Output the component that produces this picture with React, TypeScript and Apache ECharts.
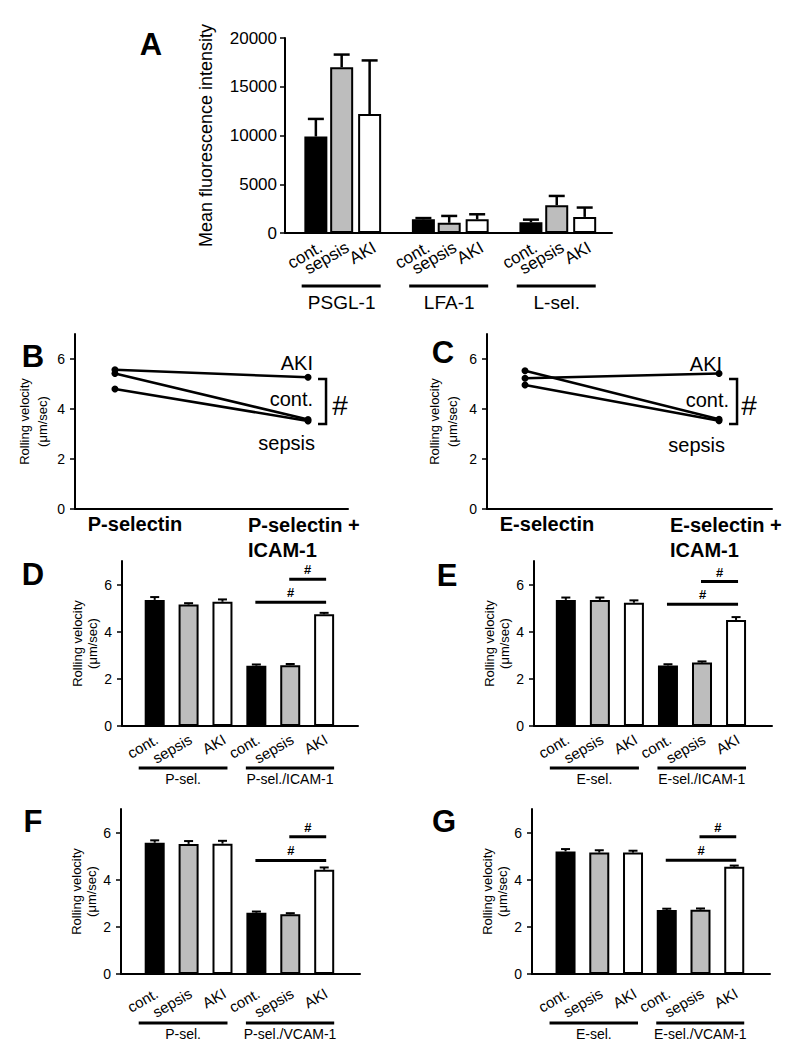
import React, { useEffect, useRef } from 'react';
import * as echarts from 'echarts';

const FONT = '"Liberation Sans", Arial, Helvetica, sans-serif';
const BLACK = '#000000';

const conditions = ['cont.', 'sepsis', 'AKI'];
const condColors = ['#000000', '#bdbdbd', '#ffffff'];

// ---- Panel A: mean fluorescence intensity ----
const aGroups = ['PSGL-1', 'LFA-1', 'L-sel.'];
const aCont = [9900, 1400, 1100];
const aSepsis = [17000, 1050, 2850];
const aAKI = [12200, 1400, 1650];
const aContErr = [1800, 130, 270];
const aSepsisErr = [1300, 700, 950];
const aAKIErr = [5500, 520, 960];

// ---- Panel B / C: rolling velocity lines ----
const bCats = ['P-selectin', 'P-selectin +\nICAM-1'];
const bCont = [5.42, 3.58];
const bSepsis = [4.8, 3.52];
const bAKI = [5.57, 5.27];
const bBracket = [5.2, 3.4];

const cCats = ['E-selectin', 'E-selectin +\nICAM-1'];
const cCont = [5.53, 3.59];
const cSepsis = [4.96, 3.53];
const cAKI = [5.23, 5.42];
const cBracket = [5.2, 3.4];

const velTicks = [0, 2, 4, 6];

// ---- Panels D-G: bar charts ----
const barCats = ['cont.', 'sepsis', 'AKI', 'cont.', 'sepsis', 'AKI'];

const dGroups = ['P-sel.', 'P-sel./ICAM-1'];
const dMean = [5.35, 5.15, 5.27, 2.56, 2.58, 4.74];
const dErr = [0.12, 0.06, 0.1, 0.05, 0.05, 0.06];
const dSig = [[3, 5, 5.25], [4, 5, 6.23]];

const eGroups = ['E-sel.', 'E-sel./ICAM-1'];
const eMean = [5.35, 5.35, 5.23, 2.57, 2.69, 4.5];
const eErr = [0.1, 0.1, 0.1, 0.05, 0.05, 0.12];
const eSig = [[3, 5, 5.17], [4, 5, 6.13]];

const fGroups = ['P-sel.', 'P-sel./VCAM-1'];
const fMean = [5.57, 5.52, 5.53, 2.6, 2.53, 4.42];
const fErr = [0.1, 0.12, 0.12, 0.05, 0.05, 0.1];
const fSig = [[3, 5, 4.82], [4, 5, 5.82]];

const gGroups = ['E-sel.', 'E-sel./VCAM-1'];
const gMean = [5.2, 5.15, 5.15, 2.72, 2.73, 4.55];
const gErr = [0.1, 0.1, 0.08, 0.05, 0.05, 0.05];
const gSig = [[3, 5, 4.83], [4, 5, 5.82]];

// layout constants
const aOffsets = [-0.24, 0, 0.26];

function ts(size: number, extra: any = {}) {
  return {
    fontSize: size,
    fontFamily: FONT,
    fill: BLACK,
    ...extra,
  };
}

function hiddenXAxis(gi: number, min: number, max: number) {
  return {
    type: 'value',
    gridIndex: gi,
    min,
    max,
    axisLine: { show: true, onZero: false, lineStyle: { color: BLACK, width: 2 } },
    axisTick: { show: false },
    axisLabel: { show: false },
    splitLine: { show: false },
  };
}

function velYAxis(gi: number, nameGap: number, lineHeight: number) {
  return {
    type: 'value',
    gridIndex: gi,
    min: 0,
    max: 7,
    name: 'Rolling velocity\n(\u03bcm/sec)',
    nameLocation: 'middle',
    nameRotate: 90,
    nameGap,
    nameTextStyle: { fontSize: 13, fontFamily: FONT, color: BLACK, lineHeight },
    axisLine: { show: true, onZero: false, lineStyle: { color: BLACK, width: 2 } },
    axisTick: { show: true, inside: false, length: 5, lineStyle: { color: BLACK, width: 1.5 }, customValues: velTicks },
    axisLabel: { fontSize: 14, fontFamily: FONT, color: BLACK, margin: 10, customValues: velTicks },
    splitLine: { show: false },
  };
}

function errSeries(ai: number, data: any[], cap: number, lw: number) {
  return {
    type: 'custom',
    xAxisIndex: ai,
    yAxisIndex: ai,
    clip: false,
    silent: true,
    z: 3,
    data,
    encode: { x: 0, y: 1 },
    renderItem: (params: any, api: any) => {
      const x = api.value(0), m = api.value(1), e = api.value(2);
      const p0 = api.coord([x, m]);
      const p1 = api.coord([x, m + e]);
      return {
        type: 'group',
        children: [
          { type: 'line', shape: { x1: p0[0], y1: p0[1], x2: p1[0], y2: p1[1] }, style: { stroke: BLACK, lineWidth: lw } },
          { type: 'line', shape: { x1: p1[0] - cap, y1: p1[1], x2: p1[0] + cap, y2: p1[1] }, style: { stroke: BLACK, lineWidth: lw } },
        ],
      };
    },
  };
}

function sigSeries(ai: number, sig: number[][]) {
  return {
    type: 'custom',
    xAxisIndex: ai,
    yAxisIndex: ai,
    clip: false,
    silent: true,
    data: sig,
    encode: { x: 0, y: 2 },
    renderItem: (params: any, api: any) => {
      const a = api.coord([api.value(0), api.value(2)]);
      const b = api.coord([api.value(1), api.value(2)]);
      const x1 = a[0] - 1, x2 = b[0] + 2;
      return {
        type: 'group',
        children: [
          { type: 'line', shape: { x1, y1: a[1], x2, y2: a[1] }, style: { stroke: BLACK, lineWidth: 3 } },
          {
            type: 'text', x: (x1 + x2) / 2, y: a[1] - 3,
            style: ts(13, { text: '#', fontWeight: 'bold', align: 'center', verticalAlign: 'bottom', textAlign: 'center', textVerticalAlign: 'bottom' }),
          },
        ],
      };
    },
  };
}

function groupSeries(ai: number, groups: string[], underline: number) {
  return {
    type: 'custom',
    xAxisIndex: ai,
    yAxisIndex: ai,
    clip: false,
    silent: true,
    data: groups.map((n, g) => [g * 3, g * 3 + 2, g]),
    encode: { x: 0, y: 2 },
    renderItem: (params: any, api: any) => {
      const g = api.value(2);
      const p0 = api.coord([api.value(0), 0]);
      const p2 = api.coord([api.value(1), 0]);
      const ext = g === 0 ? [-16, 5] : [-10.5, 10];
      const y = p0[1] + underline;
      const x1 = p0[0] + ext[0], x2 = p2[0] + ext[1];
      return {
        type: 'group',
        children: [
          { type: 'line', shape: { x1, y1: y, x2, y2: y }, style: { stroke: BLACK, lineWidth: 3 } },
          {
            type: 'text', x: (x1 + x2) / 2, y: y + 11,
            style: ts(14, { text: groups[g], align: 'center', verticalAlign: 'middle', textAlign: 'center', textVerticalAlign: 'middle' }),
          },
        ],
      };
    },
  };
}

function buildOption() {
  const grid: any[] = [];
  const xAxis: any[] = [];
  const yAxis: any[] = [];
  const series: any[] = [];
  const graphic: any[] = [];
  const helpers: { left: number; top: number; width: number; height: number; cats: string[]; margin: number; size: number }[] = [];

  // ---------- Panel A ----------
  const aGrid = { left: 285, top: 38, width: 327, height: 195 };
  const aMin = -0.527, aMax = 2.514;
  const aUnit = aGrid.width / (aMax - aMin);
  const aMeans = [aCont, aSepsis, aAKI];
  const aErrs = [aContErr, aSepsisErr, aAKIErr];
  const aBarData: any[] = [];
  const aErrData: any[] = [];
  aGroups.forEach((_, g) => {
    conditions.forEach((c, k) => {
      const x = g + aOffsets[k];
      aBarData.push({ value: [x, aMeans[k][g]], itemStyle: { color: condColors[k] } });
      aErrData.push([x, aMeans[k][g], aErrs[k][g]]);
    });
    // label strip for this group (rotated category labels)
    const center = aGrid.left + (g - aMin) * aUnit + 6;
    const band = 0.25 * aUnit;
    helpers.push({ left: center - 1.5 * band, top: aGrid.top, width: 3 * band, height: aGrid.height, cats: conditions, margin: 13, size: 17 });
  });

  grid.push(aGrid);
  xAxis.push(hiddenXAxis(0, aMin, aMax));
  yAxis.push({
    type: 'value',
    gridIndex: 0,
    min: 0,
    max: 20000,
    interval: 5000,
    name: 'Mean fluorescence intensity',
    nameLocation: 'middle',
    nameRotate: 90,
    nameGap: 70,
    nameTextStyle: { fontSize: 18, fontFamily: FONT, color: BLACK },
    axisLine: { show: true, onZero: false, lineStyle: { color: BLACK, width: 2 } },
    axisTick: { show: true, inside: false, length: 5, lineStyle: { color: BLACK, width: 1.5 } },
    axisLabel: { fontSize: 17, fontFamily: FONT, color: BLACK, margin: 8, formatter: (v: number) => String(v) },
    splitLine: { show: false },
  });
  series.push({
    type: 'bar', xAxisIndex: 0, yAxisIndex: 0, barWidth: 23, data: aBarData,
    itemStyle: { borderColor: BLACK, borderWidth: 2 },
  });
  series.push(errSeries(0, aErrData, 8, 2.5));
  series.push({
    type: 'custom', xAxisIndex: 0, yAxisIndex: 0, clip: false, silent: true,
    data: aGroups.map((n, g) => [g, 0]),
    encode: { x: 0, y: 1 },
    renderItem: (params: any, api: any) => {
      const g = api.value(0);
      const p = api.coord([g, 0]);
      const y = p[1] + 53;
      return {
        type: 'group',
        children: [
          { type: 'line', shape: { x1: p[0] - 40, y1: y, x2: p[0] + 39, y2: y }, style: { stroke: BLACK, lineWidth: 3 } },
          {
            type: 'text', x: p[0], y: y + 16,
            style: ts(19, { text: aGroups[g], align: 'center', verticalAlign: 'middle', textAlign: 'center', textVerticalAlign: 'middle' }),
          },
        ],
      };
    },
  });

  // ---------- Panels B, C ----------
  const linePanels = [
    {
      ai: 1, grid: { left: 75, top: 334, width: 273, height: 175 }, xMin: -0.207, xMax: 1.207,
      cats: bCats, cont: bCont, sepsis: bSepsis, aki: bAKI, bracket: bBracket,
      nameGap: 24, catX: [135, 248], dx: [5, 7, 5], akiDy: -14, contDy: -2.5, sepDy: 22, hashDx: 14,
    },
    {
      ai: 2, grid: { left: 487, top: 334, width: 285, height: 175 }, xMin: -0.196, xMax: 1.273,
      cats: cCats, cont: cCont, sepsis: cSepsis, aki: cAKI, bracket: cBracket,
      nameGap: 26, catX: [547, 670], dx: [10, 6, 3], akiDy: -10, contDy: -1.5, sepDy: 24, hashDx: 12,
    },
  ];
  linePanels.forEach((lp) => {
    grid.push(lp.grid);
    xAxis.push(hiddenXAxis(lp.ai, lp.xMin, lp.xMax));
    yAxis.push(velYAxis(lp.ai, lp.nameGap, 18));
    [lp.aki, lp.cont, lp.sepsis].forEach((vals, idx) => {
      series.push({
        type: 'line', xAxisIndex: lp.ai, yAxisIndex: lp.ai,
        name: conditions[[2, 0, 1][idx]],
        data: vals.map((v, j) => [j, v]),
        symbol: 'circle', symbolSize: 7,
        lineStyle: { color: BLACK, width: 2.5 },
        itemStyle: { color: BLACK },
        z: 2,
      });
    });
    series.push({
      type: 'custom', xAxisIndex: lp.ai, yAxisIndex: lp.ai, clip: false, silent: true,
      data: [[1, lp.bracket[0], lp.bracket[1]]],
      encode: { x: 0, y: 1 },
      renderItem: (params: any, api: any) => {
        const pA = api.coord([1, lp.aki[1]]);
        const pS = api.coord([1, lp.sepsis[1]]);
        const bt = api.coord([1, api.value(1)]);
        const bb = api.coord([1, api.value(2)]);
        const bx = bt[0] + 18;
        const mid = (bt[1] + bb[1]) / 2;
        const lbl = (text: string, x: number, y: number) => ({
          type: 'text', x, y,
          style: ts(20, { text, align: 'right', verticalAlign: 'middle', textAlign: 'right', textVerticalAlign: 'middle' }),
        });
        return {
          type: 'group',
          children: [
            {
              type: 'polyline',
              shape: { points: [[bx - 8, bt[1]], [bx, bt[1]], [bx, bb[1]], [bx - 8, bb[1]]] },
              style: { stroke: BLACK, lineWidth: 2.5, fill: 'none' },
            },
            {
              type: 'text', x: bx + lp.hashDx, y: mid + 4,
              style: ts(28, { text: '#', align: 'center', verticalAlign: 'middle', textAlign: 'center', textVerticalAlign: 'middle' }),
            },
            lbl(conditions[2], pA[0] + lp.dx[2], pA[1] + lp.akiDy),
            lbl(conditions[0], pA[0] + lp.dx[0], mid + lp.contDy),
            lbl(conditions[1], pA[0] + lp.dx[1], pS[1] + lp.sepDy),
          ],
        };
      },
    });
    graphic.push({
      type: 'text', x: lp.catX[0], y: 524,
      style: ts(20, { text: lp.cats[0], fontWeight: 'bold', align: 'center', verticalAlign: 'middle', textAlign: 'center', textVerticalAlign: 'middle' }),
    });
    graphic.push({
      type: 'text', x: lp.catX[1], y: 512,
      style: ts(20, { text: lp.cats[1], fontWeight: 'bold', lineHeight: 25, align: 'left', verticalAlign: 'top', textAlign: 'left', textVerticalAlign: 'top' }),
    });
  });

  // ---------- Panels D-G ----------
  const barPanels = [
    { grid: { left: 122, top: 561, width: 236, height: 165 }, xMin: -0.965, xMax: 6.0, means: dMean, errs: dErr, sig: dSig, groups: dGroups, labelMargin: 12, underline: 42 },
    { grid: { left: 534, top: 561, width: 238, height: 165 }, xMin: -0.935, xMax: 6.056, means: eMean, errs: eErr, sig: eSig, groups: eGroups, labelMargin: 12, underline: 42 },
    { grid: { left: 121, top: 809, width: 239, height: 165 }, xMin: -0.994, xMax: 6.056, means: fMean, errs: fErr, sig: fSig, groups: fGroups, labelMargin: 18, underline: 49 },
    { grid: { left: 532, top: 809, width: 238, height: 165 }, xMin: -0.994, xMax: 6.06, means: gMean, errs: gErr, sig: gSig, groups: gGroups, labelMargin: 18, underline: 49 },
  ];
  barPanels.forEach((pn, i) => {
    const ai = 3 + i;
    grid.push(pn.grid);
    xAxis.push(hiddenXAxis(ai, pn.xMin, pn.xMax));
    yAxis.push(velYAxis(ai, 21, 15));
    series.push({
      type: 'bar', xAxisIndex: ai, yAxisIndex: ai, barWidth: 20,
      data: pn.means.map((v, j) => ({ value: [j, v], itemStyle: { color: condColors[j % 3] } })),
      itemStyle: { borderColor: BLACK, borderWidth: 2 },
    });
    series.push(errSeries(ai, pn.means.map((v, j) => [j, v, pn.errs[j]]), 4.5, 2));
    series.push(sigSeries(ai, pn.sig));
    series.push(groupSeries(ai, pn.groups, pn.underline));
    const unit = pn.grid.width / (pn.xMax - pn.xMin);
    const c0 = pn.grid.left + (0 - pn.xMin) * unit + 2;
    helpers.push({ left: c0 - unit / 2, top: pn.grid.top, width: barCats.length * unit, height: pn.grid.height, cats: barCats, margin: pn.labelMargin, size: 15 });
  });

  // ---------- label strips: category axes with rotated labels ----------
  helpers.forEach((h) => {
    const gi = grid.length;
    grid.push({ left: h.left, top: h.top, width: h.width, height: h.height });
    xAxis.push({
      type: 'category',
      gridIndex: gi,
      data: h.cats,
      boundaryGap: true,
      axisLine: { show: false },
      axisTick: { show: false },
      splitLine: { show: false },
      axisLabel: {
        show: true, interval: 0, rotate: 30, margin: h.margin,
        fontSize: h.size, fontFamily: FONT, color: BLACK, hideOverlap: false,
      },
    });
    yAxis.push({ type: 'value', gridIndex: gi, show: false, min: 0, max: 1 });
  });

  // ---------- Panel letters ----------
  const letters: [string, number, number][] = [
    ['A', 151, 44], ['B', 33, 356], ['C', 443, 352], ['D', 33, 574], ['E', 447, 575], ['F', 33, 821], ['G', 444, 821],
  ];
  letters.forEach(([t, x, y]) => {
    graphic.push({
      type: 'text', x, y,
      style: ts(31, { text: t, fontWeight: 'bold', align: 'center', verticalAlign: 'middle', textAlign: 'center', textVerticalAlign: 'middle' }),
    });
  });

  return {
    animation: false,
    backgroundColor: '#ffffff',
    textStyle: { fontFamily: FONT },
    grid,
    xAxis,
    yAxis,
    series,
    graphic,
  };
}

export default function App() {
  const ref = useRef<HTMLDivElement>(null);
  useEffect(() => {
    if (!ref.current) return;
    const chart = echarts.init(ref.current, null, { renderer: 'svg' });
    chart.setOption(buildOption() as any);
    return () => {
      chart.dispose();
    };
  }, []);
  return (
    <div
      ref={ref}
      style={{ position: 'absolute', left: 0, top: 0, width: 797, height: 1050, background: '#ffffff' }}
    />
  );
}
